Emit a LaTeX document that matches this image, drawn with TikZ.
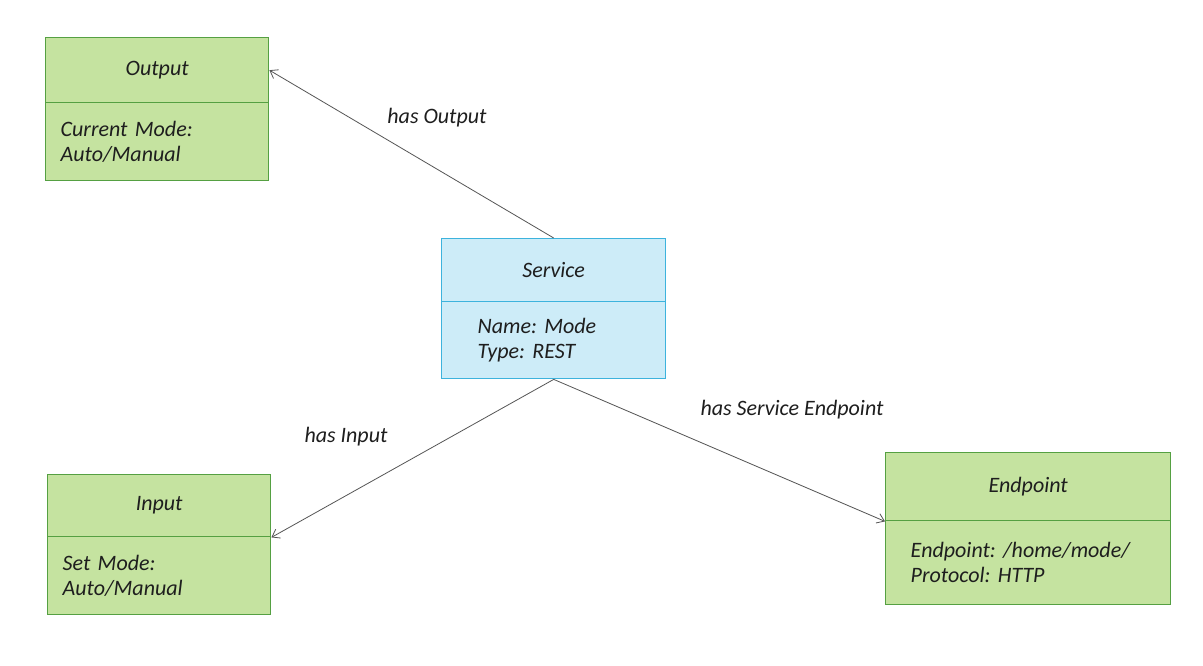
\documentclass[tikz,border=0pt]{standalone}
\usepackage{fontspec}
\setmainfont{Carlito}
\usetikzlibrary{arrows.meta}
\definecolor{gfill}{HTML}{C5E3A0}
\definecolor{gline}{HTML}{55A042}
\definecolor{bfill}{HTML}{CDECF8}
\definecolor{bline}{HTML}{3DB3DD}
\definecolor{txt}{HTML}{1E1E1E}
\definecolor{conncol}{HTML}{555555}
\tikzset{
  part/.style={draw, line width=1.4pt, inner sep=0pt, anchor=north west,
    font=\fontsize{22}{25}\selectfont\itshape\frenchspacing, text=txt},
  gpart/.style={part, draw=gline, fill=gfill},
  bpart/.style={part, draw=bline, fill=bfill},
  body/.style={align=left},
  conn/.style={draw=conncol, line width=0.8pt, -{Straight Barb[length=7pt,width=10pt]}},
  rel/.style={font=\fontsize{22}{25}\selectfont\itshape, text=txt, inner sep=1pt}
}
\begin{document}
\begin{tikzpicture}[x=1pt,y=-1pt]
  \useasboundingbox (0,0) rectangle (1203,666);
  \fill[white] (0,0) rectangle (1203,666);

  % Output class
  \node[gpart, minimum width=223pt, minimum height=65pt] (outT) at (45,37) {Output};
  \node[gpart, minimum width=223pt, minimum height=78pt, text width=193pt, body] (outB) at (45,102) {Current Mode:\\Auto/Manual};

  % Service class
  \node[bpart, minimum width=224pt, minimum height=63pt] (svcT) at (441,238) {Service};
  \node[bpart, minimum width=224pt, minimum height=77pt, text width=152pt, body] (svcB) at (441,301) {Name: Mode\\Type: REST};

  % Input class
  \node[gpart, minimum width=223pt, minimum height=62pt] (inT) at (47,474) {Input};
  \node[gpart, minimum width=223pt, minimum height=78pt, text width=193pt, body] (inB) at (47,536) {Set Mode:\\Auto/Manual};

  % Endpoint class
  \node[gpart, minimum width=285pt, minimum height=68pt] (epT) at (885,452) {Endpoint};
  \node[gpart, minimum width=285pt, minimum height=84pt, text width=235pt, body] (epB) at (885,520) {Endpoint: /home/mode/\\Protocol: HTTP};

  % Relations
  \draw[conn] (svcT.north) -- (outT.east);
  \draw[conn] (svcB.south) -- (inT.south east);
  \draw[conn] (svcB.south) -- (epT.south west);

  \node[rel] (lOut) at (437,118) {has Output};
  \node[rel] (lIn) at (346,437) {has Input};
  \node[rel] (lEp) at (792,410) {has Service Endpoint};
\end{tikzpicture}
\end{document}
